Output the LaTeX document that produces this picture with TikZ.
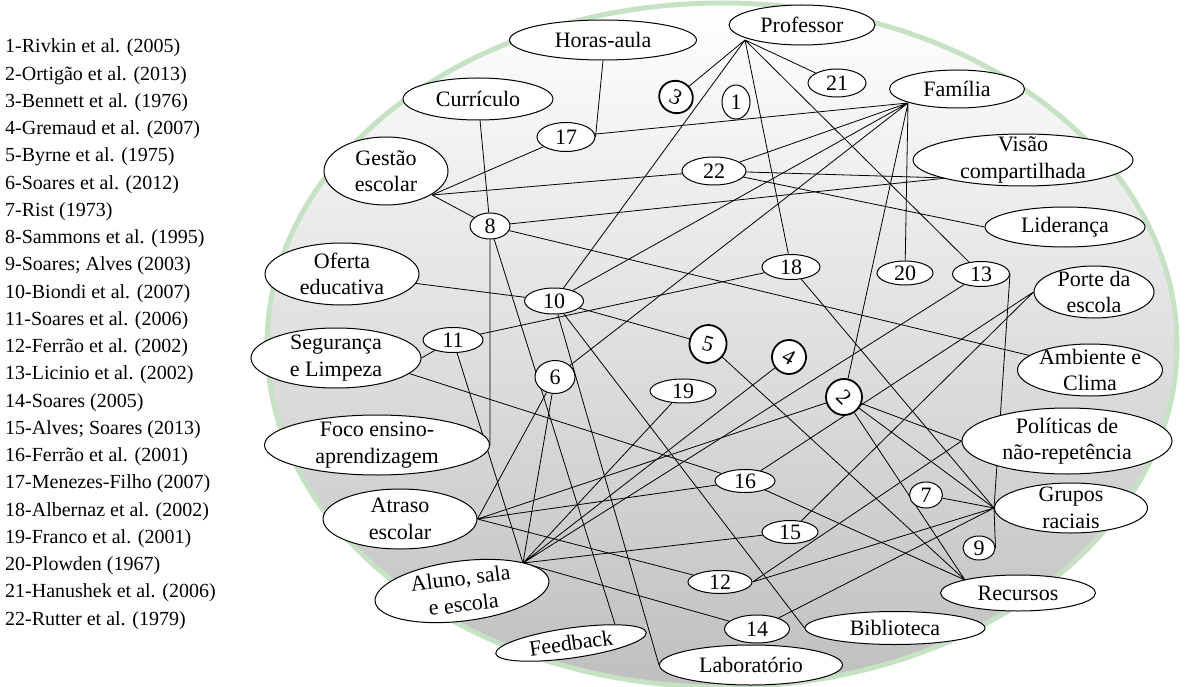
\documentclass[tikz,border=0pt]{standalone}
\usepackage{fontspec}
\setmainfont{Liberation Serif}
\usetikzlibrary{shapes.geometric}
\pgfdeclarelayer{back}
\pgfdeclarelayer{wires}
\pgfsetlayers{back,wires,main}
\definecolor{ringgreen}{RGB}{198,225,196}
\newcommand{\nf}{\fontsize{22}{26.5}\selectfont}
\newcommand{\lf}{\fontsize{20}{24}\selectfont}
\begin{document}
\begin{tikzpicture}[x=1pt,y=-1pt,
  box/.style={ellipse, draw=black, line width=1pt, fill=white, inner sep=-15pt, font=\nf, align=center},
  num/.style={ellipse, draw=black, line width=1pt, fill=white, inner sep=-15pt, font=\nf},
  bnum/.style={num, line width=1.8pt},
  wire/.style={draw=black, line width=0.8pt},
  reftext/.style={anchor=base west, font=\lf, inner sep=0pt}]
\useasboundingbox (0,0) rectangle (1185,687);

\begin{pgfonlayer}{back}
\shade[top color=white, middle color=black!6, bottom color=black!25] (722,345) ellipse [x radius=455, y radius=342];
\draw[ringgreen, line width=5pt] (722,345) ellipse [x radius=455, y radius=342];
\end{pgfonlayer}

% reference list
\node[reftext] (r1) at (5,53) {1-Rivkin et al. (2005)};
\node[reftext] (r2) at (5,80.24) {2-Ortigão et al. (2013)};
\node[reftext] (r3) at (5,107.48) {3-Bennett et al. (1976)};
\node[reftext] (r4) at (5,134.72) {4-Gremaud et al. (2007)};
\node[reftext] (r5) at (5,161.96) {5-Byrne et al. (1975)};
\node[reftext] (r6) at (5,189.2) {6-Soares et al. (2012)};
\node[reftext] (r7) at (5,216.44) {7-Rist (1973)};
\node[reftext] (r8) at (5,243.68) {8-Sammons et al. (1995)};
\node[reftext] (r9) at (5,270.92) {9-Soares; Alves (2003)};
\node[reftext] (r10) at (5,298.16) {10-Biondi et al. (2007)};
\node[reftext] (r11) at (5,325.4) {11-Soares et al. (2006)};
\node[reftext] (r12) at (5,352.64) {12-Ferrão et al. (2002)};
\node[reftext] (r13) at (5,379.88) {13-Licinio et al. (2002)};
\node[reftext] (r14) at (5,407.12) {14-Soares (2005)};
\node[reftext] (r15) at (5,434.36) {15-Alves; Soares (2013)};
\node[reftext] (r16) at (5,461.6) {16-Ferrão et al. (2001)};
\node[reftext] (r17) at (5,488.84) {17-Menezes-Filho (2007)};
\node[reftext] (r18) at (5,516.08) {18-Albernaz et al. (2002)};
\node[reftext] (r19) at (5,543.32) {19-Franco et al. (2001)};
\node[reftext] (r20) at (5,570.56) {20-Plowden (1967)};
\node[reftext] (r21) at (5,597.8) {21-Hanushek et al. (2006)};
\node[reftext] (r22) at (5,625.04) {22-Rutter et al. (1979)};

% concept nodes
\node[box, minimum width=187, minimum height=40] (horas) at (603,40) {Horas-aula};
\node[box, minimum width=146, minimum height=40] (prof) at (802,25) {Professor};
\node[box, minimum width=150, minimum height=42] (curr) at (478,99) {Currículo};
\node[box, minimum width=124, minimum height=68] (gest) at (386,171) {Gestão\\escolar};
\node[num, minimum width=58, minimum height=29] (n17) at (566,137) {17};
\node[bnum, minimum width=34, minimum height=32, rotate=-25] (n3) at (676,97) {3};
\node[num, minimum width=28, minimum height=34] (n1) at (736,102) {1};
\node[num, minimum width=58, minimum height=28] (n21) at (837,83) {21};
\node[box, minimum width=135, minimum height=38] (fam) at (957,89) {Família};
\node[box, minimum width=220, minimum height=52] (visao) at (1023,160) {Visão\\compartilhada};
\node[num, minimum width=64, minimum height=28] (n22) at (714,171) {22};
\node[box, minimum width=160, minimum height=40] (lider) at (1065,227) {Liderança};
\node[num, minimum width=40, minimum height=26] (n8) at (490,226) {8};
\node[box, minimum width=154, minimum height=62] (oferta) at (342,274) {Oferta\\educativa};
\node[num, minimum width=59, minimum height=26] (n10) at (554,301) {10};
\node[num, minimum width=58, minimum height=25] (n18) at (791,267) {18};
\node[num, minimum width=56, minimum height=24] (n20) at (905,273) {20};
\node[num, minimum width=57, minimum height=25] (n13) at (981,274) {13};
\node[box, minimum width=120, minimum height=52] (porte) at (1094,292) {Porte da\\escola};
\node[num, minimum width=60, minimum height=25] (n11) at (453,340) {11};
\node[box, minimum width=170, minimum height=60] (segur) at (336,358) {Segurança\\e Limpeza};
\node[bnum, minimum width=37, minimum height=38, rotate=-15] (n5) at (708,344) {5};
\node[bnum, minimum width=34, minimum height=34, rotate=-30] (n4) at (789,357) {4};
\node[box, minimum width=145, minimum height=52] (ambi) at (1090,370) {Ambiente e\\Clima};
\node[num, minimum width=40, minimum height=33] (n6) at (555,377) {6};
\node[num, minimum width=66, minimum height=24] (n19) at (683,391) {19};
\node[bnum, minimum width=36, minimum height=36, rotate=-45] (n2) at (844,397) {2};
\node[box, minimum width=210, minimum height=66] (polit) at (1067,441) {Políticas de\\não-repetência};
\node[box, minimum width=225, minimum height=60] (foco) at (377,445) {Foco ensino-\\aprendizagem};
\node[num, minimum width=60, minimum height=23] (n16) at (745,481) {16};
\node[num, minimum width=33, minimum height=26] (n7) at (926,495) {7};
\node[box, minimum width=153, minimum height=50] (grupos) at (1071,508) {Grupos\\raciais};
\node[box, minimum width=154, minimum height=60] (atraso) at (400,519) {Atraso\\escolar};
\node[num, minimum width=56, minimum height=23] (n15) at (790,532) {15};
\node[num, minimum width=32, minimum height=24] (n9) at (979,548) {9};
\node[num, minimum width=64, minimum height=23] (n12) at (720,582) {12};
\node[box, minimum width=175, minimum height=60, rotate=7] (aluno) at (462,591) {Aluno, sala\\e escola};
\node[box, minimum width=155, minimum height=36] (recur) at (1018,593) {Recursos};
\node[num, minimum width=65, minimum height=28] (n14) at (757,629) {14};
\node[box, minimum width=180, minimum height=33] (bibl) at (895,628) {Biblioteca};
\node[box, minimum width=152, minimum height=30, rotate=8] (feed) at (571,643) {Feedback};
\node[box, minimum width=183, minimum height=40] (lab) at (751,665) {Laboratório};

% hub points on the borders of the larger ellipses
\coordinate (Ph) at (745,40);
\coordinate (Fh) at (908,103);
\coordinate (GEh) at (432,195);
\coordinate (Vh) at (947,178);
\coordinate (Ah) at (523,563);
\coordinate (Rh) at (965,580);
\coordinate (Th) at (atraso.east);
\coordinate (Gh) at (grupos.west);
\coordinate (POh) at (porte.west);
\coordinate (Polh) at (polit.west);

\begin{pgfonlayer}{wires}
\draw[wire] (Ph) -- (n3)  (Ph) -- (n10)  (Ph) -- (n18)  (Ph) -- (n21)  (Ph) -- (n13);
\draw[wire] (Fh) -- (n17)  (Fh) -- (n22)  (Fh) -- (n10)  (Fh) -- (n6)  (Fh) -- (n2)  (Fh) -- (n20);
\draw[wire] (horas.south) -- (n17.east);
\draw[wire] (GEh) -- (n17)  (GEh) -- (n22)  (GEh) -- (n8);
\draw[wire] (curr) -- (n8);
\draw[wire] (n8) -- (Vh)  (n8) -- (ambi)  (n8) -- (foco.east)  (n8) -- (feed.15);
\draw[wire] (n22) -- (Vh)  (n22) -- (lider.west);
\draw[wire] (oferta) -- (n10);
\draw[wire] (n10) -- (n5)  (n10) -- (lab.west)  (n10) -- (bibl.west);
\draw[wire] (segur.east) -- (n11)  (segur.-12) -- (n16);
\draw[wire] (n11) -- (n18)  (n11) -- (Ah);
\draw[wire] (Th) -- (n6)  (Ah) -- (n6);
\draw[wire] (Ah) -- (n19)  (Ah) -- (n4)  (Ah) -- (n13)  (Ah) -- (n15)  (Ah) -- (n14);
\draw[wire] (Th) -- (n2)  (Th) -- (n16)  (Th) -- (n12);
\draw[wire] (n16) -- (POh)  (n16) -- (Rh)  (n15) -- (POh);
\draw[wire] (n5) -- (Rh);
\draw[wire] (n2) -- (Polh)  (n2) -- (Gh)  (n2) -- (Rh);
\draw[wire] (n12.east) -- (Polh)  (n12.east) -- (Gh)  (n14) -- (Gh);
\draw[wire] (n7) -- (Gh)  (n18) -- (Gh);
\draw[wire] (n13.east) -- (Gh) -- (n9.east);
\end{pgfonlayer}
\end{tikzpicture}
\end{document}
